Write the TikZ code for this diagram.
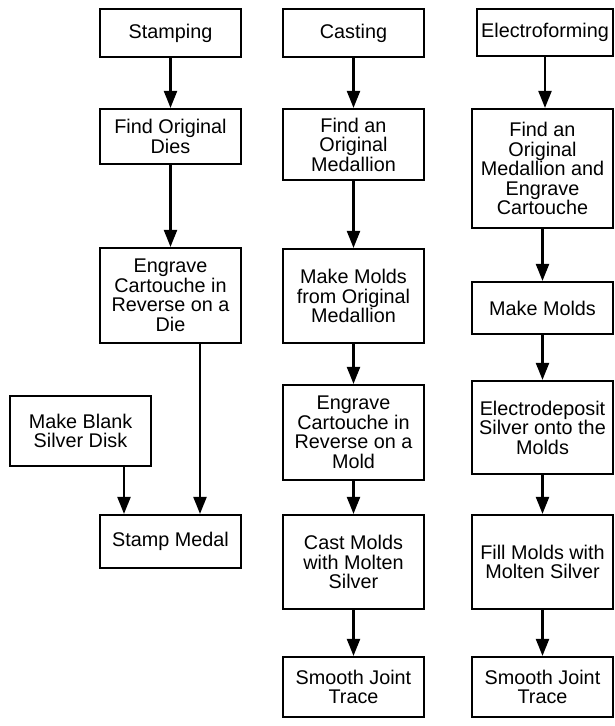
\documentclass[tikz,border=0pt]{standalone}
\usepackage{fontspec}
\setmainfont{Liberation Sans}
\usetikzlibrary{arrows.meta}
\tikzset{
  stepbox/.style={draw, line width=2.2pt, align=center, inner sep=0pt,
    minimum width=141, font=\fontsize{19.8}{19.5}\selectfont},
  arr/.style={line width=2.2pt, -{Triangle[length=17pt,width=13pt]}}
}
\begin{document}
\begin{tikzpicture}[x=1pt, y=-1pt]
  \useasboundingbox (0,0) rectangle (614,726);
  % stamping
  \node[stepbox, minimum height=48] (s1) at (170.5,33) {Stamping};
  \node[stepbox, minimum height=55] (s2) at (170.5,136.5) {Find Original\\Dies};
  \node[stepbox, minimum height=95] (s3) at (170.5,295.5)
    {Engrave\\Cartouche in\\Reverse on a\\Die};
  \node[stepbox, minimum height=70] (s4) at (80.5,431) {Make Blank\\Silver Disk};
  \node[stepbox, minimum height=53] (s5) at (170.5,541.5) {Stamp Medal};
  % casting
  \node[stepbox, minimum height=48] (c1) at (353.5,33) {Casting};
  \node[stepbox, minimum height=71] (c2) at (353.5,144.5)
    {Find an\\Original\\Medallion};
  \node[stepbox, minimum height=94] (c3) at (353.5,296)
    {Make Molds\\from Original\\Medallion};
  \node[stepbox, minimum height=95] (c4) at (353.5,432.5)
    {Engrave\\Cartouche in\\Reverse on a\\Mold};
  \node[stepbox, minimum height=94] (c5) at (353.5,562)
    {Cast Molds\\with Molten\\Silver};
  \node[stepbox, minimum height=60] (c6) at (353.5,687) {Smooth Joint\\Trace};
  % electroforming
  \node[stepbox, minimum height=47, minimum width=136] (e1) at (545,32.5)
    {Electroforming};
  \node[stepbox, minimum height=119] (e2) at (542.5,168.5)
    {Find an\\Original\\Medallion and\\Engrave\\Cartouche};
  \node[stepbox, minimum height=52] (e3) at (542.5,308) {Make Molds};
  \node[stepbox, minimum height=93] (e4) at (542.5,427.5)
    {Electrodeposit\\Silver onto the\\Molds};
  \node[stepbox, minimum height=94] (e5) at (542.5,562)
    {Fill Molds with\\Molten Silver};
  \node[stepbox, minimum height=60] (e6) at (542.5,687) {Smooth Joint\\Trace};
  % arrows
  \foreach \a/\b in {s1/s2,s2/s3,c1/c2,c2/c3,c3/c4,c4/c5,c5/c6,
                     e1/e2,e2/e3,e3/e4,e4/e5,e5/e6}
    \draw[arr] (\a) -- (\a |- \b.north);
  \draw[arr] ([xshift=29.5]s3.south) -- ([xshift=29.5]s5.north);
  \draw[arr] ([xshift=-46.5]s5.north |- s4.south) -- ([xshift=-46.5]s5.north);
\end{tikzpicture}
\end{document}
